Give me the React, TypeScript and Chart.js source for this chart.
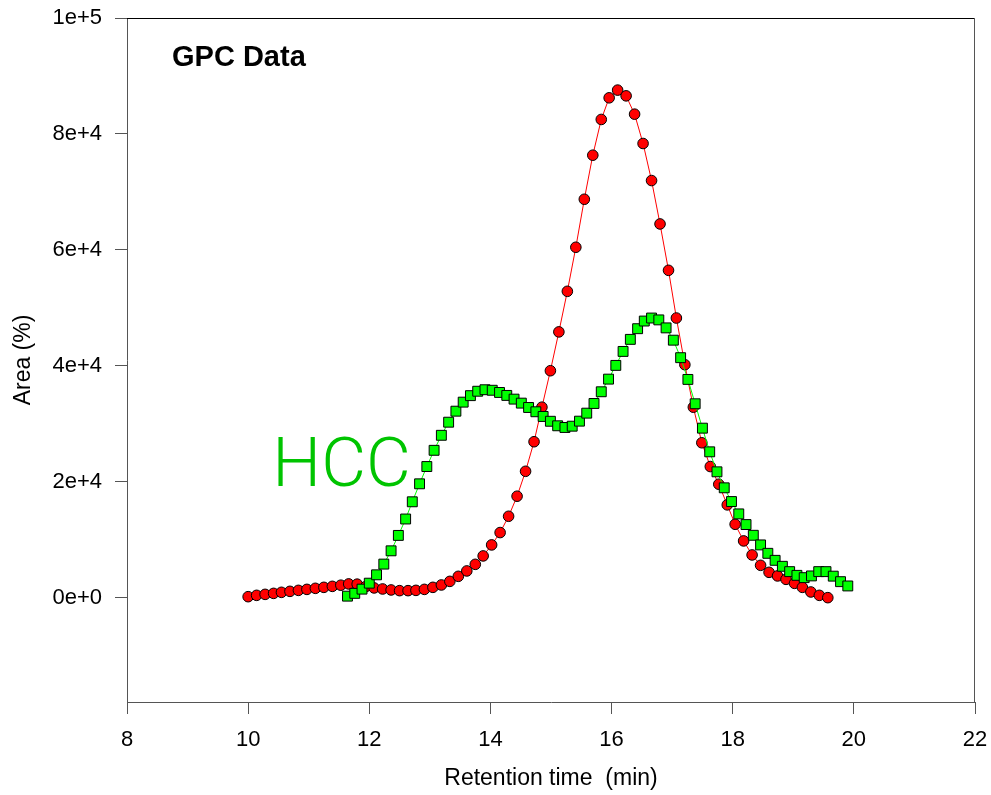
import React, { useEffect, useRef } from 'react';
import { Chart, registerables } from 'chart.js';

Chart.register(...registerables);

// ---- data ----
const redTimes = [
  10.0, 10.14, 10.28, 10.42, 10.55, 10.69, 10.83, 10.97, 11.11, 11.25,
  11.39, 11.53, 11.66, 11.8, 11.94, 12.08, 12.22, 12.36, 12.5, 12.64,
  12.77, 12.91, 13.05, 13.19, 13.33, 13.47, 13.61, 13.75, 13.88, 14.02,
  14.16, 14.3, 14.44, 14.58, 14.72, 14.85, 14.99, 15.13, 15.27, 15.41,
  15.55, 15.69, 15.83, 15.96, 16.1, 16.24, 16.38, 16.52, 16.66, 16.8,
  16.94, 17.07, 17.21, 17.35, 17.49, 17.63, 17.77, 17.91, 18.04, 18.18,
  18.32, 18.46, 18.6, 18.74, 18.88, 19.02, 19.15, 19.29, 19.43, 19.57,
];
const redArea = [
  170, 400, 570, 740, 920, 1090, 1260, 1430, 1610, 1780,
  1950, 2150, 2370, 2330, 1900, 1680, 1500, 1330, 1210, 1210,
  1260, 1430, 1780, 2190, 2810, 3680, 4610, 5750, 7200, 9100,
  11230, 14040, 17500, 21800, 26900, 32860, 39150, 45850, 52850, 60450,
  68730, 76330, 82500, 86230, 87560, 86570, 83410, 78350, 71960, 64470,
  56470, 48240, 40190, 32860, 26720, 22620, 19570, 16010, 12660, 9790,
  7370, 5580, 4370, 3750, 3160, 2470, 1780, 980, 400, 0,
];
const greenTimes = [
  11.64, 11.76, 11.88, 12.0, 12.12, 12.24, 12.36, 12.48, 12.6, 12.71,
  12.83, 12.95, 13.07, 13.19, 13.31, 13.43, 13.55, 13.67, 13.79, 13.91,
  14.03, 14.15, 14.27, 14.39, 14.51, 14.63, 14.75, 14.87, 14.99, 15.11,
  15.23, 15.35, 15.47, 15.59, 15.71, 15.83, 15.95, 16.07, 16.19, 16.31,
  16.43, 16.54, 16.66, 16.78, 16.9, 17.02, 17.14, 17.26, 17.38, 17.5,
  17.62, 17.74, 17.86, 17.98, 18.1, 18.22, 18.34, 18.46, 18.58, 18.7,
  18.82, 18.94, 19.06, 19.18, 19.3, 19.42, 19.54, 19.66, 19.78, 19.9,
];
const greenArea = [
  260, 740, 1470, 2500, 3940, 5790, 8080, 10740, 13570, 16540,
  19640, 22620, 25420, 28010, 30270, 32170, 33730, 34850, 35610, 35870,
  35780, 35400, 34890, 34250, 33560, 32810, 32070, 31260, 30430, 29650,
  29360, 29580, 30450, 31830, 33500, 35520, 37700, 40070, 42480, 44560,
  46400, 47720, 48240, 47920, 46540, 44420, 41400, 37650, 33450, 29240,
  25160, 21710, 18950, 16580, 14450, 12610, 10760, 9100, 7650, 6440,
  5410, 4490, 3850, 3450, 3750, 4490, 4490, 3710, 2760, 2020,
];
const xTicks = [8, 10, 12, 14, 16, 18, 20, 22];
const yTicks = [0, 20000, 40000, 60000, 80000, 100000];
const chartTitle = 'GPC Data';
const seriesLabel = 'HCC';
const xTitle = 'Retention time  (min)';
const yTitle = 'Area (%)';

const FONT = '"Liberation Sans", Arial, sans-serif';

export default function App() {
  const ref = useRef<HTMLCanvasElement | null>(null);

  useEffect(() => {
    const canvas = ref.current;
    if (!canvas) return;

    const overlay = {
      id: 'overlay',
      afterDraw(chart: any) {
        const { ctx, chartArea: a, scales } = chart;
        ctx.save();
        ctx.lineWidth = 1;
        ctx.strokeStyle = '#000';
        ctx.beginPath();
        ctx.moveTo(a.left, a.top + 0.5);
        ctx.lineTo(a.right, a.top + 0.5);
        ctx.stroke();
        ctx.strokeStyle = '#555';
        ctx.beginPath();
        ctx.moveTo(a.right - 0.5, a.top);
        ctx.lineTo(a.right - 0.5, a.bottom);
        ctx.stroke();

        ctx.fillStyle = '#000';
        ctx.textBaseline = 'alphabetic';
        ctx.textAlign = 'left';
        ctx.font = `bold 29px ${FONT}`;
        ctx.fillText(chartTitle, a.left + 45, a.top + 48);

        ctx.fillStyle = '#00c400';
        ctx.font = `300 69px Roboto, ${FONT}`;
        ctx.fillText(
          seriesLabel,
          scales.x.getPixelForValue(10.4),
          scales.y.getPixelForValue(19250)
        );
        ctx.restore();
      },
    };

    const chart = new Chart(canvas, {
      type: 'line',
      data: {
        datasets: [
          {
            label: seriesLabel,
            data: greenTimes.map((x, i) => ({ x, y: greenArea[i] })),
            borderColor: '#00ff00',
            borderWidth: 1,
            pointStyle: 'rect',
            pointRadius: 7,
            pointBackgroundColor: '#00ff00',
            pointBorderColor: '#000',
            pointBorderWidth: 1,
            tension: 0,
          },
          {
            label: 'Sample',
            data: redTimes.map((x, i) => ({ x, y: redArea[i] })),
            borderColor: '#ff0000',
            borderWidth: 1,
            pointStyle: 'circle',
            pointRadius: 5.3,
            pointBackgroundColor: '#ff0000',
            pointBorderColor: '#000',
            pointBorderWidth: 1,
            tension: 0,
          },
        ],
      },
      options: {
        responsive: false,
        animation: false,
        events: [],
        layout: { padding: { left: 0, top: 18, right: 16, bottom: 0 } },
        plugins: {
          legend: { display: false },
          tooltip: { enabled: false },
        },
        scales: {
          x: {
            type: 'linear',
            min: 8,
            max: 22,
            afterBuildTicks: (s: any) => {
              s.ticks = xTicks.map((v) => ({ value: v }));
            },
            afterFit: (s: any) => {
              s.height = 93;
              s.paddingLeft = 0;
              s.paddingRight = 0;
            },
            ticks: {
              color: '#000',
              font: { family: FONT, size: 22 },
              padding: 13,
              maxRotation: 0,
            },
            grid: {
              drawOnChartArea: false,
              drawTicks: true,
              tickLength: 12,
              color: '#555',
            },
            border: { display: true, color: '#555' },
            title: {
              display: true,
              text: xTitle,
              color: '#000',
              font: { family: FONT, size: 23 },
              padding: { top: 0, bottom: 3 },
            },
          },
          y: {
            type: 'linear',
            min: -18000,
            max: 100000,
            afterBuildTicks: (s: any) => {
              s.ticks = yTicks.map((v) => ({ value: v }));
            },
            afterFit: (s: any) => {
              s.width = 127;
              s.paddingTop = 0;
              s.paddingBottom = 0;
            },
            ticks: {
              color: '#000',
              font: { family: FONT, size: 22 },
              padding: 13,
              callback: (v: any) => Number(v).toExponential(0),
            },
            grid: {
              drawOnChartArea: false,
              drawTicks: true,
              tickLength: 12,
              color: '#555',
            },
            border: { display: true, color: '#555' },
            title: {
              display: true,
              text: yTitle,
              color: '#000',
              font: { family: FONT, size: 23 },
              padding: { top: 10, bottom: 0 },
            },
          },
        },
      },
      plugins: [overlay],
    });

    return () => chart.destroy();
  }, []);

  return (
    <div style={{ position: 'absolute', left: 0, top: 0, width: 991, height: 795, background: '#fff' }}>
      <canvas ref={ref} width={991} height={795} style={{ display: 'block' }} />
    </div>
  );
}
